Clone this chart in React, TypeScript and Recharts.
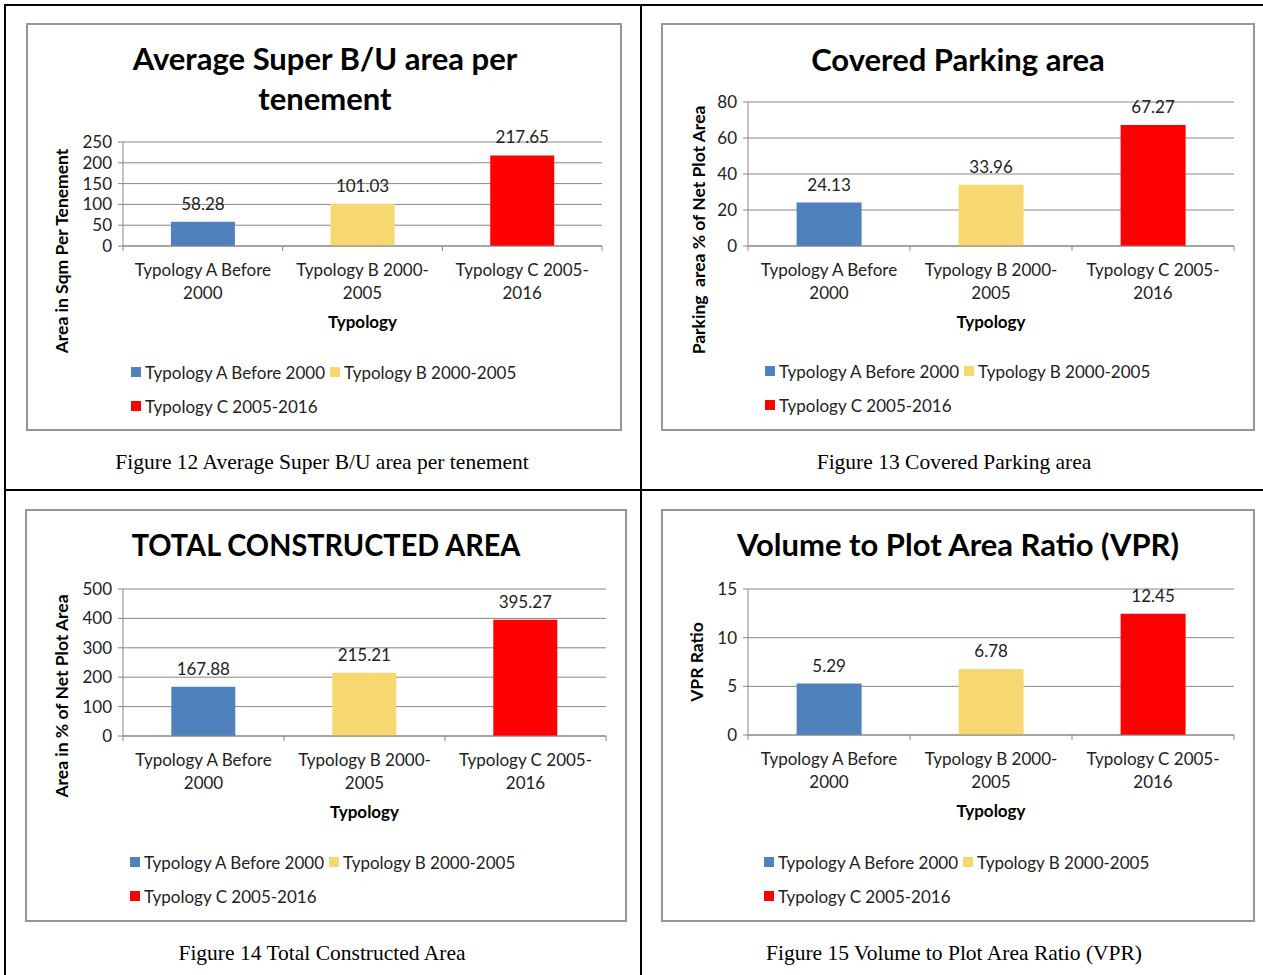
import React from 'react';
import { BarChart, Bar, XAxis, YAxis, CartesianGrid, Legend, Cell, LabelList } from 'recharts';

// shared categories / colours
const categories = ['Typology A Before 2000', 'Typology B 2000-2005', 'Typology C 2005-2016'];
const seriesColors = ['#4F81BD', '#F7D870', '#FF0000'];

// values
const superBuArea = [58.28, 101.03, 217.65];
const coveredParking = [24.13, 33.96, 67.27];
const totalConstructed = [167.88, 215.21, 395.27];
const vprRatio = [5.29, 6.78, 12.45];

// y-axis ticks
const superBuTicks = [0, 50, 100, 150, 200, 250];
const parkingTicks = [0, 20, 40, 60, 80];
const totalTicks = [0, 100, 200, 300, 400, 500];
const vprTicks = [0, 5, 10, 15];

const FONT = 'Lato, "Open Sans", sans-serif';
const TEXT = '#222222';
const GRID = '#878787';
const X_AXIS_H = 88;
const FS = 17;

type Box = { x: number; y: number; w: number; h: number };
type Plot = { left: number; right: number; top: number; bottom: number };

interface PanelProps {
  values: number[];
  ticks: number[];
  frame: Box;
  plot: Plot;
  title: string[];
  titleY: number[];
  titleCx: number;
  titleScale?: number;
  yTitle: string;
  yTitlePos: { cx: number; cy: number };
  legendPos: { x: number; y: number };
  caption: string;
  captionPos: { cx: number; cy: number };
}

// break label at spaces / hyphens so a line fits ~17 chars
function wrapLabel(text: string, maxChars = 17) {
  const parts = text.split(/(?<=[ -])/);
  const lines: string[] = [];
  let cur = '';
  parts.forEach((p) => {
    if ((cur + p).trim().length > maxChars && cur) {
      lines.push(cur.trim());
      cur = p;
    } else {
      cur += p;
    }
  });
  if (cur) lines.push(cur.trim());
  return lines;
}

function Panel({
  values,
  ticks,
  frame,
  plot,
  title,
  titleY,
  titleCx,
  titleScale = 1,
  yTitle,
  yTitlePos,
  legendPos,
  caption,
  captionPos
}: PanelProps) {
  const rows = categories.map((name, i) => ({ name, value: values[i] }));
  const band = (plot.right - plot.left) / categories.length;

  const CategoryTick = (props: any) => {
    const { x, y, payload, index } = props;
    const half = payload && payload.offset ? payload.offset : band / 2;
    const lines = wrapLabel(payload.value);
    return (
      <g>
        <line x1={x - half} x2={x - half} y1={y} y2={y + 5} stroke={GRID} />
        {index === categories.length - 1 && (
          <line x1={x + half} x2={x + half} y1={y} y2={y + 5} stroke={GRID} />
        )}
        {lines.map((l, i) => (
          <text key={i} x={x} y={y + 30 + i * 23} textAnchor="middle" fill={TEXT} fontSize={FS}>
            {l}
          </text>
        ))}
      </g>
    );
  };

  const renderLegend = () => (
    <div style={{ display: 'flex', flexWrap: 'wrap', width: 420, fontFamily: FONT }}>
      {categories.map((c, i) => (
        <span
          key={c}
          style={{ display: 'inline-flex', alignItems: 'center', height: 34, marginRight: 5, fontSize: FS, color: TEXT }}
        >
          <span style={{ width: 10, height: 10, background: seriesColors[i], display: 'inline-block', marginRight: 4 }} />
          {c}
        </span>
      ))}
    </div>
  );

  return (
    <>
      <div
        style={{
          position: 'absolute',
          left: frame.x,
          top: frame.y,
          width: frame.w,
          height: frame.h,
          border: '2px solid #979797',
          boxSizing: 'border-box',
          background: '#fff'
        }}
      />
      {title.map((t, i) => (
        <div
          key={i}
          style={{
            position: 'absolute',
            left: titleCx - 300,
            width: 600,
            top: titleY[i] - 21,
            lineHeight: '40px',
            textAlign: 'center',
            fontFamily: FONT,
            fontWeight: 700,
            fontSize: 31,
            color: '#000',
            transform: `scaleX(${titleScale})`
          }}
        >
          {t}
        </div>
      ))}
      <div
        style={{
          position: 'absolute',
          left: yTitlePos.cx,
          top: yTitlePos.cy,
          transform: 'translate(-50%, -50%) rotate(-90deg)',
          whiteSpace: 'pre',
          fontFamily: FONT,
          fontWeight: 700,
          fontSize: 17.5,
          color: '#000'
        }}
      >
        {yTitle}
      </div>
      <div style={{ position: 'absolute', left: frame.x, top: frame.y, fontFamily: FONT }}>
        <BarChart
          width={frame.w}
          height={frame.h}
          data={rows}
          barCategoryGap="30%"
          margin={{
            top: plot.top - frame.y,
            right: frame.x + frame.w - plot.right,
            left: 0,
            bottom: frame.y + frame.h - plot.bottom - X_AXIS_H
          }}
        >
          <CartesianGrid vertical={false} stroke={GRID} />
          <XAxis
            dataKey="name"
            height={X_AXIS_H}
            interval={0}
            tickLine={false}
            tickSize={0}
            tickMargin={0}
            axisLine={{ stroke: GRID }}
            tick={<CategoryTick />}
            label={{
              value: 'Typology',
              position: 'insideBottom',
              offset: 6,
              style: { fontWeight: 700, fontSize: FS, fill: '#000', fontFamily: FONT }
            }}
          />
          <YAxis
            width={plot.left - frame.x}
            domain={[ticks[0], ticks[ticks.length - 1]]}
            ticks={ticks}
            interval={0}
            allowDataOverflow
            tickSize={5}
            tickMargin={6}
            axisLine={{ stroke: GRID }}
            tickLine={{ stroke: GRID }}
            tick={{ fill: TEXT, fontSize: FS }}
          />
          <Legend
            layout="horizontal"
            verticalAlign="middle"
            content={renderLegend}
            wrapperStyle={{ left: legendPos.x - frame.x, top: legendPos.y - 17 - frame.y, width: 420 }}
          />
          <Bar dataKey="value" isAnimationActive={false}>
            {rows.map((r, i) => (
              <Cell key={r.name} fill={seriesColors[i]} />
            ))}
            <LabelList
              dataKey="value"
              position="top"
              offset={12}
              formatter={(v: any) => Number(v).toFixed(2)}
              style={{ fill: TEXT, fontSize: FS }}
            />
          </Bar>
        </BarChart>
      </div>
      <div
        style={{
          position: 'absolute',
          left: captionPos.cx - 300,
          width: 600,
          top: captionPos.cy - 13,
          lineHeight: '26px',
          textAlign: 'center',
          fontFamily: '"Liberation Serif", "Times New Roman", serif',
          fontSize: 21.5,
          color: '#000'
        }}
      >
        {caption}
      </div>
    </>
  );
}

export default function App() {
  const rule = (s: React.CSSProperties) => <div style={{ position: 'absolute', background: '#000', ...s }} />;
  return (
    <div style={{ position: 'absolute', left: 0, top: 0, width: 1263, height: 975, background: '#fff', overflow: 'hidden' }}>
      {rule({ left: 4, top: 4, width: 1259, height: 2 })}
      {rule({ left: 4, top: 4, width: 2, height: 971 })}
      {rule({ left: 640, top: 4, width: 2, height: 971 })}
      {rule({ left: 4, top: 489, width: 1259, height: 2 })}

      <Panel
        values={superBuArea}
        ticks={superBuTicks}
        frame={{ x: 26, y: 23, w: 596, h: 408 }}
        plot={{ left: 123, right: 602, top: 142, bottom: 246 }}
        title={['Average Super B/U area per', 'tenement']}
        titleY={[59, 99]}
        titleCx={325}
        yTitle="Area in Sqm Per Tenement"
        yTitlePos={{ cx: 61, cy: 251 }}
        legendPos={{ x: 131, y: 372 }}
        caption="Figure 12 Average Super B/U area per tenement"
        captionPos={{ cx: 322, cy: 462 }}
      />
      <Panel
        values={coveredParking}
        ticks={parkingTicks}
        frame={{ x: 661, y: 23, w: 594, h: 408 }}
        plot={{ left: 748, right: 1234, top: 102, bottom: 246 }}
        title={['Covered Parking area']}
        titleY={[60]}
        titleCx={958}
        yTitle="Parking  area % of Net Plot Area"
        yTitlePos={{ cx: 698, cy: 230 }}
        legendPos={{ x: 765, y: 371 }}
        caption="Figure 13 Covered Parking area"
        captionPos={{ cx: 954, cy: 462 }}
      />
      <Panel
        values={totalConstructed}
        ticks={totalTicks}
        frame={{ x: 25, y: 509, w: 602, h: 413 }}
        plot={{ left: 123, right: 606, top: 589, bottom: 736 }}
        title={['TOTAL CONSTRUCTED AREA']}
        titleY={[545]}
        titleCx={326}
        titleScale={0.93}
        yTitle="Area in % of Net Plot Area"
        yTitlePos={{ cx: 61, cy: 696 }}
        legendPos={{ x: 130, y: 862 }}
        caption="Figure 14 Total Constructed Area"
        captionPos={{ cx: 322, cy: 953 }}
      />
      <Panel
        values={vprRatio}
        ticks={vprTicks}
        frame={{ x: 661, y: 509, w: 594, h: 413 }}
        plot={{ left: 748, right: 1234, top: 589, bottom: 735 }}
        title={['Volume to Plot Area Ratio (VPR)']}
        titleY={[545]}
        titleCx={958}
        yTitle="VPR Ratio"
        yTitlePos={{ cx: 696, cy: 662 }}
        legendPos={{ x: 764, y: 862 }}
        caption="Figure 15 Volume to Plot Area Ratio (VPR)"
        captionPos={{ cx: 954, cy: 953 }}
      />
    </div>
  );
}
